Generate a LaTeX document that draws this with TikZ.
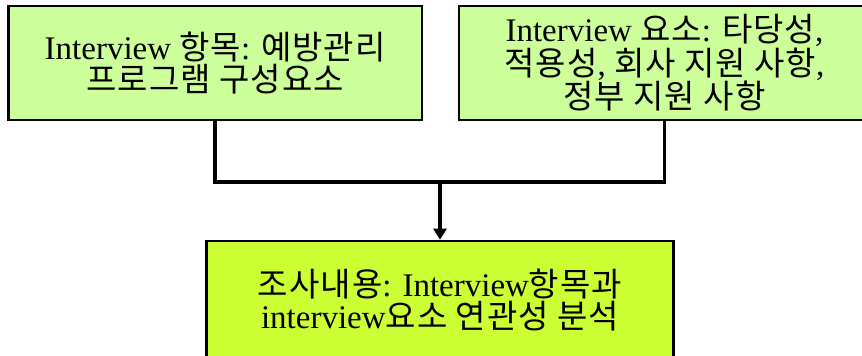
\documentclass[tikz,border=0pt]{standalone}
\usepackage{fontspec}
\setmainfont{Liberation Serif}
\newfontfamily\krfont[LetterSpace=3]{Noto Sans CJK KR}
\usetikzlibrary{arrows.meta}
\newcommand\K[1]{{\krfont #1}}
\definecolor{boxgreen}{HTML}{CCFF99}
\definecolor{boxlime}{HTML}{CCFF33}
\begin{document}
\begin{tikzpicture}[x=1pt,y=-1pt,
  boxbase/.style={draw=black, line width=2.6pt, align=center, inner sep=0pt,
    font=\fontsize{33}{32.5}\selectfont},
  topbox/.style={boxbase, fill=boxgreen, minimum height=114pt},
  resultbox/.style={boxbase, fill=boxlime, minimum height=118pt},
  conn/.style={line width=3.8pt},
  arr/.style={conn, -{Triangle[length=11pt,width=13pt]}}]
\path[use as bounding box, clip] (0,0) rectangle (862,356);
\fill[white] (0,0) rectangle (862,356);
\node[topbox, minimum width=413.5pt] (left) at (215.2,63)
  {Interview \K{항목}: \K{예방관리}\\\K{프로그램 구성요소}};
\node[topbox, minimum width=411pt] (right) at (664.5,63)
  {Interview \K{요소}: \K{타당성},\\\K{적용성}, \K{회사 지원 사항},\\\K{정부 지원 사항}};
\node[resultbox, minimum width=467pt] (bottom) at (440,300)
  {\K{조사내용}: Interview\K{항목과}\\interview\K{요소 연관성 분석}};
\coordinate (j) at (440,182);
\draw[conn] (left.south) |- (j) -| (right.south);
\draw[arr] (j) -- (bottom.north);
\end{tikzpicture}
\end{document}
